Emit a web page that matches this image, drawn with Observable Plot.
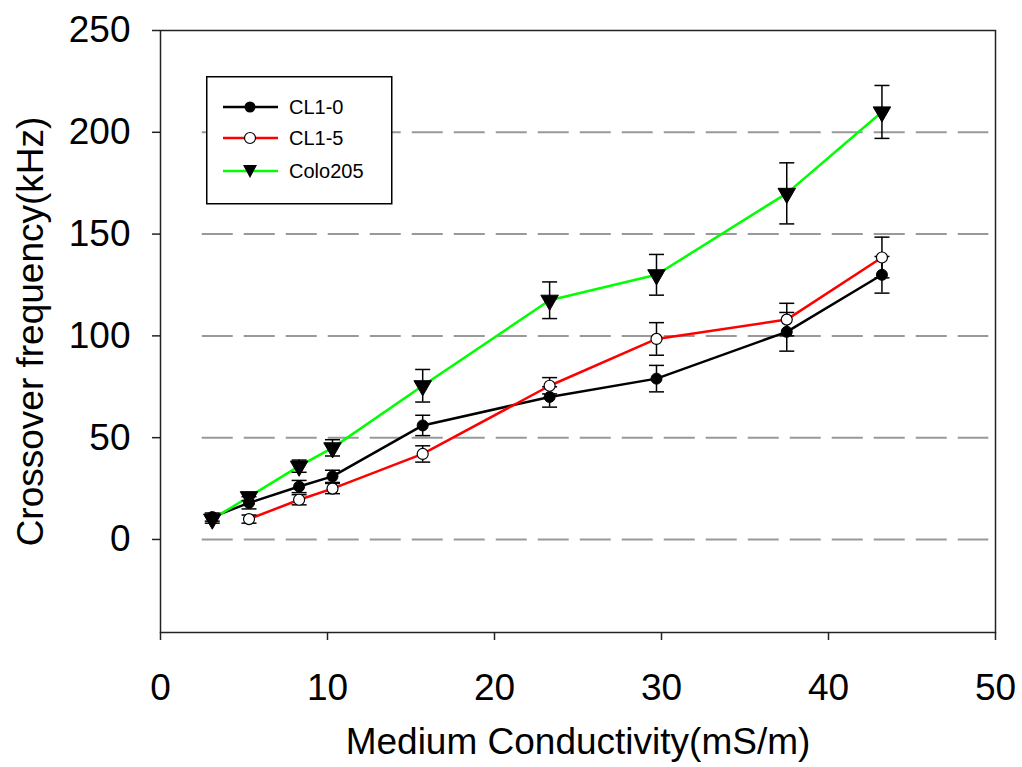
<!DOCTYPE html>
<html>
<head>
<meta charset="utf-8">
<script src="https://cdn.jsdelivr.net/npm/d3@7"></script>
<script src="https://cdn.jsdelivr.net/npm/@observablehq/plot@0.6"></script>
<style>
  html, body { margin: 0; padding: 0; background: #fff; }
  #wrap { position: relative; width: 1022px; height: 767px; font-family: "Liberation Sans", Arial, sans-serif; }
  #legend { position: absolute; left: 206px; top: 76px; }
</style>
</head>
<body>
<div id="wrap">
  <div id="chart"></div>
  <svg id="legend" width="187" height="129"></svg>
</div>
<script>
// ---- data ----
const seriesNames = ["CL1-0", "CL1-5", "Colo205"];
const conductivityCL10 = [3.1, 5.3, 8.3, 10.3, 15.7, 23.3, 29.7, 37.5, 43.2];
const freqCL10 = [11, 18, 26, 31, 56, 70, 79, 102, 130];
const errCL10 = [2, 3, 3, 3, 5, 5, 6.5, 9.5, 9];

const conductivityCL15 = [5.3, 8.3, 10.3, 15.7, 23.3, 29.7, 37.5, 43.2];
const freqCL15 = [10, 19.5, 25, 42, 75.5, 98.5, 108, 138.5];
const errCL15 = [2, 2.5, 2.5, 4, 4, 8, 8, 10];

const conductivityColo = [3.1, 5.3, 8.3, 10.3, 15.7, 23.3, 29.7, 37.5, 43.2];
const freqColo = [10, 21, 36, 45, 75.5, 117.5, 130, 170, 210];
const errColo = [2, 2, 3, 4, 8, 9, 10, 15, 13];

const xTicks = [0, 10, 20, 30, 40, 50];
const yTicks = [0, 50, 100, 150, 200, 250];
const gridValues = [0, 50, 100, 150, 200];

// ---- build rows ----
function rows(name, xs, ys, es) {
  return xs.map((x, i) => ({series: name, x, y: ys[i], err: es[i]}));
}
const dataCL10 = rows("CL1-0", conductivityCL10, freqCL10, errCL10);
const dataCL15 = rows("CL1-5", conductivityCL15, freqCL15, errCL15);
const dataColo = rows("Colo205", conductivityColo, freqColo, errColo);
const all = [...dataCL10, ...dataCL15, ...dataColo];

const lineColor = {"CL1-0": "#000000", "CL1-5": "#ff0000", "Colo205": "#00ff00"};

const capSymbol = {
  draw(context) { context.moveTo(-7.5, 0); context.lineTo(7.5, 0); }
};

const font = "'Liberation Sans', Arial, sans-serif";

const chart = Plot.plot({
  width: 1022,
  height: 767,
  marginLeft: 160,
  marginRight: 27,
  marginTop: 30,
  marginBottom: 135,
  style: {fontFamily: font, background: "#fff", overflow: "visible"},
  x: {domain: [0, 50]},
  y: {domain: [-45.7, 250]},
  marks: [
    Plot.ruleY(gridValues, {x1: 2.5, x2: 49.6, stroke: "#999", strokeWidth: 2, strokeDasharray: "31,11"}),
    Plot.line(dataCL10, {x: "x", y: "y", stroke: lineColor["CL1-0"], strokeWidth: 2.5}),
    Plot.line(dataCL15, {x: "x", y: "y", stroke: lineColor["CL1-5"], strokeWidth: 2.5}),
    Plot.line(dataColo, {x: "x", y: "y", stroke: lineColor["Colo205"], strokeWidth: 2.5}),
    Plot.ruleX(all, {x: "x", y1: d => d.y - d.err, y2: d => d.y + d.err, stroke: "#000", strokeWidth: 1.5}),
    Plot.dot(all, {x: "x", y: d => d.y + d.err, symbol: capSymbol, stroke: "#000", strokeWidth: 1.5, fill: "none"}),
    Plot.dot(all, {x: "x", y: d => d.y - d.err, symbol: capSymbol, stroke: "#000", strokeWidth: 1.5, fill: "none"}),
    Plot.dot(dataCL10, {x: "x", y: "y", r: 5.5, fill: "#000", stroke: "#000", strokeWidth: 1}),
    Plot.dot(dataCL15, {x: "x", y: "y", r: 5.5, fill: "#fff", stroke: "#000", strokeWidth: 1.2}),
    Plot.dot(dataColo, {x: "x", y: "y", symbol: "triangle", rotate: 180, r: 6.5, fill: "#000", stroke: "#000", strokeWidth: 1}),
    Plot.frame({stroke: "#222", strokeWidth: 1.5}),
    Plot.axisX(xTicks, {tickSize: 8, tickPadding: 33, fontSize: 37, stroke: "#222", strokeWidth: 1.5,
      label: "Medium Conductivity(mS/m)", labelAnchor: "center", labelOffset: 121, labelArrow: "none", fill: "#000"}),
    Plot.axisY(yTicks, {tickSize: 8, tickPadding: 22, fontSize: 37, stroke: "#222", strokeWidth: 1.5,
      label: "Crossover frequency(kHz)", labelAnchor: "center", labelOffset: 144, labelArrow: "none", fill: "#000"})
  ]
});
document.getElementById("chart").appendChild(chart);

// ---- legend ----
const legend = d3.select("#legend");
legend.append("rect").attr("x", 0.75).attr("y", 0.75).attr("width", 185).attr("height", 127)
  .attr("fill", "#fff").attr("stroke", "#000").attr("stroke-width", 1.5);
const rowY = [31, 62, 95];
seriesNames.forEach((name, i) => {
  const g = legend.append("g").attr("transform", `translate(0,${rowY[i]})`);
  g.append("line").attr("x1", 17).attr("x2", 72).attr("y1", 0).attr("y2", 0)
    .attr("stroke", lineColor[name]).attr("stroke-width", 2.5);
  if (name === "CL1-0") {
    g.append("circle").attr("cx", 44).attr("cy", 0).attr("r", 5.5).attr("fill", "#000");
  } else if (name === "CL1-5") {
    g.append("circle").attr("cx", 44).attr("cy", 0).attr("r", 5.5).attr("fill", "#fff").attr("stroke", "#000").attr("stroke-width", 1.2);
  } else {
    g.append("path").attr("d", "M37,-6L51,-6L44,7Z").attr("fill", "#000");
  }
  g.append("text").attr("x", 83).attr("y", 0).attr("dy", "0.35em")
    .attr("font-family", font).attr("font-size", 20).attr("fill", "#000").text(name);
});
</script>
</body>
</html>
